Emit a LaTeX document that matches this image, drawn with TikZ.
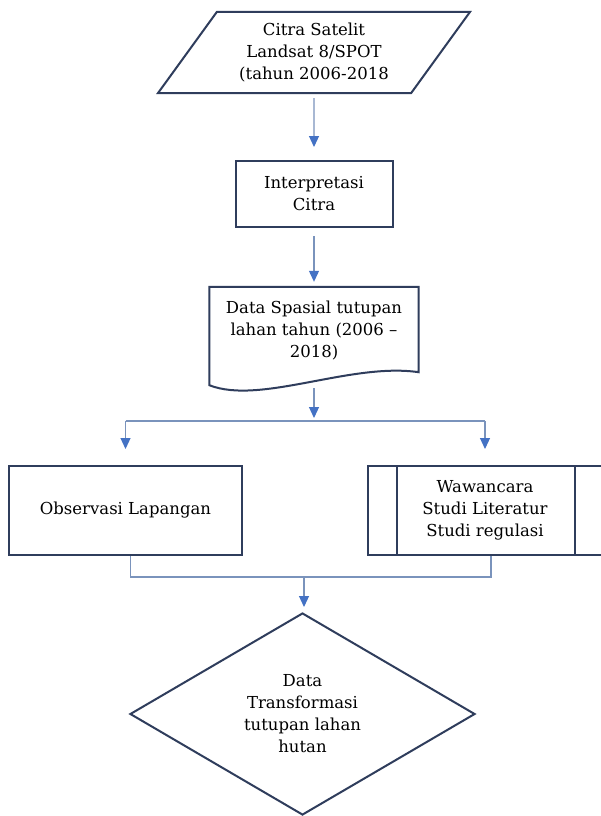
\documentclass[tikz,border=0pt]{standalone}
\usepackage{fontspec}
\setmainfont{DejaVu Serif}
\usetikzlibrary{arrows.meta,shapes.geometric}
\definecolor{FlowInk}{HTML}{2F3D5C}
\definecolor{FlowBlue}{HTML}{4472C4}
\definecolor{FlowLine}{HTML}{7A93BC}
\begin{document}
\begin{tikzpicture}[x=1pt,y=1pt,>=Latex]
\tikzset{
  txt/.style={font=\fontsize{16.5}{22}\selectfont,text=black,align=center},
  outline/.style={draw=FlowInk,line width=2pt},
  box/.style={txt,outline,fill=white,inner sep=0pt},
  conn/.style={draw=FlowLine,line width=1.2pt},
  flow/.style={conn,-{Triangle[length=11pt,width=10pt,color=FlowBlue]}}
}
\useasboundingbox (0,0) rectangle (600,-816);
\fill[white] (0,0) rectangle (600,-816);
\node[box,trapezium,trapezium left angle=52.6,trapezium right angle=127.4,trapezium stretches=true,minimum width=312,minimum height=81] (sat) at (314,-52.5) {Citra Satelit\\Landsat 8/SPOT\\(tahun 2006-2018};
\node[box,minimum width=157,minimum height=66] (interp) at (314,-194) {Interpretasi\\Citra};
\node[txt,minimum width=209,minimum height=88,inner sep=0pt] (doc) at (314,-331) {Data Spasial tutupan\\lahan tahun (2006 --\\2018)};
\draw[outline] ([yshift=-10pt]doc.south west) -- (doc.north west) -- (doc.north east) -- ([yshift=3pt]doc.south east) .. controls +(-68,10) and +(51,-20) .. ([yshift=-10pt]doc.south west) -- cycle;
\node[box,minimum width=233,minimum height=89] (obs) at (125.5,-510.5) {Observasi Lapangan};
\node[box,minimum width=234,minimum height=89] (lit) at (485,-510.5) {Wawancara\\Studi Literatur\\Studi regulasi};
\draw[outline] ([xshift=30pt]lit.north west) -- ([xshift=30pt]lit.south west);
\draw[outline] ([xshift=-28pt]lit.north east) -- ([xshift=-28pt]lit.south east);
\node[box,diamond,aspect=1.7,minimum width=345,minimum height=202] (res) at (302.5,-714) {Data\\Transformasi\\tutupan lahan\\hutan};
\coordinate (split) at (314,-421);
\coordinate (merge) at (304,-577);
\draw[flow,shorten <=4pt,shorten >=13pt] (sat) -- (interp);
\draw[flow,shorten <=8pt,shorten >=5pt] (interp) -- (doc);
\draw[flow,shorten >=3pt] ([yshift=-13pt]doc.south) -- (split);
\draw[conn] (split -| obs) -- (split -| lit);
\draw[flow,shorten >=16pt] (split -| obs) -- (obs);
\draw[flow,shorten >=16pt] (split -| lit) -- (lit);
\draw[conn] ([xshift=5pt]obs.south) |- (merge) -| ([xshift=6pt]lit.south);
\draw[flow,shorten >=5pt] (merge) -- (merge |- res.north);
\end{tikzpicture}
\end{document}
